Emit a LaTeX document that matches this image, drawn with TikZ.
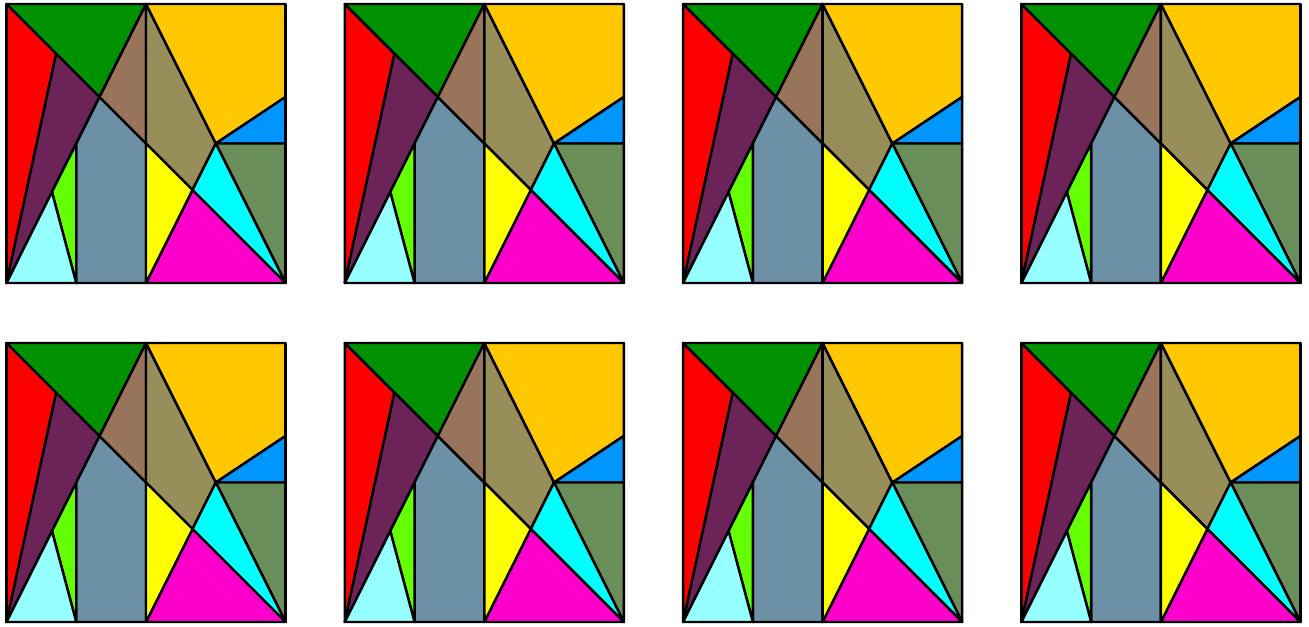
\documentclass[tikz,border=0pt]{standalone}
\usepackage{xcolor}
\usepackage{tikz}

\definecolor{pRed}{RGB}{255,0,0}
\definecolor{pGreen}{RGB}{0,145,0}
\definecolor{pPurple}{RGB}{108,36,88}
\definecolor{pSteel}{RGB}{108,144,166}
\definecolor{pLime}{RGB}{100,255,0}
\definecolor{pIce}{RGB}{150,255,255}
\definecolor{pBrown}{RGB}{152,116,90}
\definecolor{pOlive}{RGB}{152,142,90}
\definecolor{pGold}{RGB}{255,200,0}
\definecolor{pBlue}{RGB}{0,150,255}
\definecolor{pMoss}{RGB}{106,142,90}
\definecolor{pCyan}{RGB}{0,255,255}
\definecolor{pMagenta}{RGB}{255,0,204}
\definecolor{pYellow}{RGB}{255,255,0}

\tikzset{piece/.style={draw=black, line width=1.4pt, line join=round}}

\begin{document}
\begin{tikzpicture}
\useasboundingbox (0,0) rectangle (26.18,12.52);

% eight copies of the same dissection
\foreach \c in {0,...,3} {
\foreach \r in {0,1} {
\begin{scope}[shift={(0.13+6.766*\c,0.08+6.78*\r)}, x=5.58cm, y=5.58cm]
% Corner and edge points
\coordinate (O) at (0,0);
\coordinate (TL) at (0,1);
\coordinate (T) at (0.5,1);
\coordinate (TR) at (1,1);
\coordinate (BR) at (1,0);
\coordinate (Bm) at (0.5,0);
\coordinate (Bq) at (0.25,0);
\coordinate (E1) at (1,2/3);
\coordinate (E2) at (1,0.5);
% Inner points
\coordinate (P) at (0.178,0.822);
\coordinate (G) at (1/3,2/3);
\coordinate (Q) at (0.25,0.5);
\coordinate (L) at (0.163,0.326);
\coordinate (M) at (0.5,0.5);
\coordinate (K) at (2/3,1/3);
\coordinate (R) at (0.75,0.5);

% Left half
\filldraw[piece, fill=pRed] (TL) -- (P) -- (O) -- cycle;
\filldraw[piece, fill=pGreen] (TL) -- (T) -- (G) -- cycle;
\filldraw[piece, fill=pPurple] (P) -- (G) -- (O) -- cycle;
\filldraw[piece, fill=pSteel] (G) -- (M) -- (Bm) -- (Bq) -- (Q) -- cycle;
\filldraw[piece, fill=pLime] (Q) -- (Bq) -- (L) -- cycle;
\filldraw[piece, fill=pIce] (L) -- (Bq) -- (O) -- cycle;
\filldraw[piece, fill=pBrown] (T) -- (M) -- (G) -- cycle;

% Right half
\filldraw[piece, fill=pOlive] (T) -- (R) -- (K) -- (M) -- cycle;
\filldraw[piece, fill=pGold] (T) -- (TR) -- (E1) -- (R) -- cycle;
\filldraw[piece, fill=pBlue] (R) -- (E1) -- (E2) -- cycle;
\filldraw[piece, fill=pMoss] (R) -- (E2) -- (BR) -- cycle;
\filldraw[piece, fill=pCyan] (R) -- (BR) -- (K) -- cycle;
\filldraw[piece, fill=pMagenta] (K) -- (BR) -- (Bm) -- cycle;
\filldraw[piece, fill=pYellow] (M) -- (K) -- (Bm) -- cycle;

% Frame
\draw[piece] (O) rectangle (TR);
\end{scope}
}
}

\end{tikzpicture}
\end{document}
